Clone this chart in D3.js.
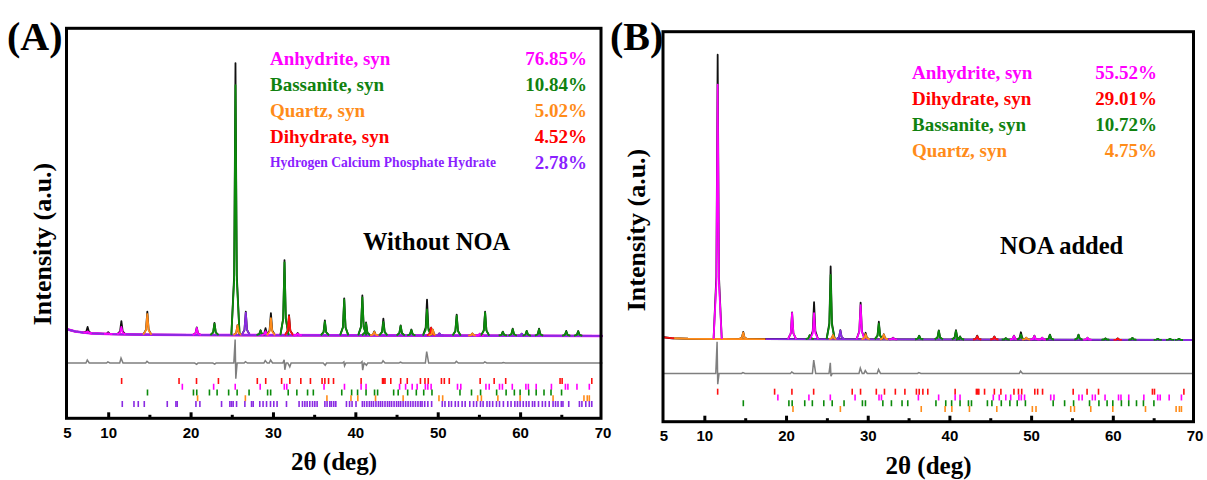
<!DOCTYPE html>
<html>
<head>
<meta charset="utf-8">
<script src="https://cdn.jsdelivr.net/npm/d3@7"></script>
<style>
  body { margin: 0; background: #fff; }
  svg { display: block; }
</style>
</head>
<body>
<div id="chart"></div>
<script>
// ---- data (2θ in degrees, intensities in % of the strongest observed peak) ----

// panel A : without NOA
const peakPosA  = [7.5, 10.0, 11.6, 14.75, 20.75, 22.9, 25.45, 25.7, 26.7, 28.5, 29.1, 29.75, 31.4, 31.95, 33.0, 36.3, 38.65, 40.85, 41.3, 42.3, 43.4, 45.5, 46.8, 48.7, 49.2, 49.4, 50.2, 52.3, 54.2, 55.1, 55.75, 57.9, 59.1, 60.2, 60.8, 62.3, 65.6, 67.05];
const peakObsA  = [2.2, 0.7, 4.8, 8.5, 2.8, 4.5, 100, 3.7, 8.6, 1.8, 2.6, 8.1, 27.6, 7.4, 0.8, 5.5, 13.6, 14.7, 4.8, 1.5, 6.2, 3.7, 2.2, 13.2, 2.9, 2.2, 0.8, 7.7, 0.8, 0.7, 8.8, 1.5, 2.6, 0.8, 1.8, 2.6, 1.8, 1.8];
const peakCalcA = [0.6, 0.3, 2.7, 7.6, 2.6, 4.2, 91.9, 3.7, 8.3, 1.7, 1.5, 6.3, 26.8, 7.0, 0.6, 5.0, 13.2, 14.0, 4.5, 1.3, 5.0, 3.5, 2.0, 9.6, 2.9, 2.2, 0.8, 7.3, 0.8, 0.7, 8.5, 1.4, 2.4, 0.8, 1.7, 2.4, 1.6, 1.6];
const peakColA  = ["magenta", "magenta", "magenta", "orange", "magenta", "green", "green", "orange", "purple", "green", "magenta", "orange", "green", "red", "magenta", "green", "green", "green", "green", "orange", "green", "green", "green", "green", "red", "orange", "purple", "green", "orange", "magenta", "green", "green", "green", "purple", "green", "green", "green", "green"];
const bgPosA = [5, 6, 7, 8, 10, 15, 20, 70];
const bgValA = [2.1, 1.3, 0.9, 0.6, 0.35, 0.1, 0, -0.35];
const bgSegFromA = [5, 5];
const bgSegToA = [70, 70];
const bgSegColA = ["magenta", "purple"];
const diffPosA  = [7.5, 10, 11.6, 14.75, 20.7, 22.9, 25.45, 26.7, 29.1, 29.75, 31.4, 32.0, 36.3, 38.65, 40.85, 41.3, 43.4, 45.5, 48.7, 52.3, 55.75, 58.0];
const diffUpA   = [1.1, 0.4, 1.8, 0.6, 0, 0, 8.6, 0.5, 0.9, 1.1, 1.2, 0, 0, 0.4, 0.5, 0, 0.8, 0.3, 4.2, 0.6, 0.4, 0.2];
const diffDownA = [0, 0, 0, 0, -0.5, -0.4, -5.8, 0, 0, 0, -2.5, -1.4, -0.8, -1.0, -2.6, -0.8, 0, 0, 0, 0, 0, 0];

// panel B : NOA added
const peakPosB  = [11.63, 14.76, 20.74, 22.9, 23.43, 25.46, 25.75, 26.65, 29.13, 29.74, 31.36, 31.97, 33.1, 36.3, 38.7, 40.8, 41.3, 43.4, 45.5, 46.9, 47.9, 48.75, 49.4, 50.4, 51.35, 52.3, 55.8, 56.9, 59.1, 60.6, 62.4, 65.5, 67.0, 68.1];
const peakObsB  = [100, 2.5, 9.4, 1.4, 13.0, 25.6, 1.5, 3.2, 12.9, 2.3, 6.2, 1.8, 0.6, 1.3, 3.2, 3.3, 1.1, 1.4, 1.1, 0.5, 1.4, 2.6, 0.7, 1.4, 0.7, 1.8, 1.8, 0.7, 0.5, 0.5, 0.7, 0.4, 0.4, 0.4];
const peakCalcB = [89.5, 2.3, 9.2, 1.4, 9.2, 22.6, 1.5, 3.1, 12.0, 1.8, 5.5, 1.7, 0.5, 1.2, 3.0, 3.0, 1.0, 1.2, 1.0, 0.5, 1.3, 1.8, 0.7, 1.3, 0.7, 1.7, 1.7, 0.7, 0.5, 0.5, 0.7, 0.4, 0.4, 0.4];
const peakColB  = ["magenta", "orange", "magenta", "green", "magenta", "green", "orange", "purple", "magenta", "orange", "green", "orange", "magenta", "green", "green", "green", "green", "red", "red", "green", "magenta", "green", "orange", "magenta", "magenta", "green", "green", "magenta", "green", "red", "green", "green", "green", "green"];
const bgPosB = [5, 6, 8, 12, 70];
const bgValB = [0.7, 0.4, 0.2, 0.1, -0.25];
const bgSegFromB = [5, 6.3, 17.5];
const bgSegToB = [6.3, 17.5, 70];
const bgSegColB = ["red", "orange", "purple"];
const diffPosB  = [11.6, 14.76, 20.74, 23.43, 25.46, 29.13, 29.74, 31.36, 36.3, 48.75];
const diffUpB   = [11.1, 0.3, 0.5, 4.7, 3.7, 1.9, 1.0, 1.4, 0.3, 0.8];
const diffDownB = [-3.8, 0, 0, 0, -1.0, 0, 0, 0, 0, 0];

// reflection markers of each phase
const dihydrateTicks = [11.63, 18.6, 20.72, 23.38, 28.1, 29.12, 31.05, 32.05, 33.38, 34.55, 35.96, 36.3, 36.75, 37.35, 40.7, 43.3, 43.45, 43.6, 44.3, 45.5, 46.3, 47.9, 48.45, 48.85, 50.45, 50.8, 51.4, 55.15, 56.85, 58.25, 64.85, 65.1, 68.7];
const anhydriteTicks = [19.0, 22.8, 25.42, 28.45, 31.38, 31.68, 36.2, 38.68, 40.7, 41.3, 45.37, 46.1, 46.9, 47.5, 48.5, 48.8, 49.2, 52.4, 52.8, 55.85, 56.25, 57.5, 57.85, 59.05, 60.7, 61.0, 61.95, 63.8, 65.5, 65.8, 66.9, 68.4];
const bassaniteTicks = [14.77, 20.35, 20.75, 22.29, 23.22, 24.62, 25.65, 27.1, 29.35, 29.72, 31.85, 32.9, 34.2, 34.9, 38.35, 39.55, 40.27, 41.3, 42.33, 42.7, 44.65, 45.2, 46.35, 47.4, 48.3, 49.3, 52.7, 54.1, 55.2, 57.15, 58.3, 59.3, 60.0, 61.05, 61.95, 62.9, 63.75, 65.03];
const quartzTicks = [20.85, 26.65, 36.55, 39.47, 40.3, 42.45, 45.8, 50.15, 50.6, 54.85, 55.3, 57.3, 60.0, 64.0, 67.75, 68.15, 68.4];
const hcphTicks = [11.71, 13.13, 13.65, 14.38, 17.17, 18.22, 18.38, 20.65, 21.13, 23.76, 24.77, 24.97, 25.17, 25.58, 26.59, 27.4, 27.6, 28.4, 28.8, 29.22, 29.7, 30.1, 30.5, 31.64, 33.17, 33.58, 33.87, 34.15, 34.47, 34.8, 35.08, 35.36, 36.3, 36.57, 36.9, 37.1, 37.38, 37.63, 38.92, 39.3, 39.6, 40.08, 40.85, 41.1, 41.4, 41.7, 41.95, 42.2, 42.5, 42.8, 43.05, 43.3, 43.6, 43.9, 44.15, 44.4, 44.7, 45.0, 45.25, 45.5, 45.8, 46.1, 46.4, 46.7, 47.0, 47.3, 47.6, 47.9, 48.1, 48.42, 48.8, 49.26, 50.55, 50.88, 51.34, 51.67, 52.13, 52.5, 52.96, 53.33, 53.89, 54.35, 54.72, 55.19, 55.51, 55.98, 56.3, 56.67, 57.13, 57.5, 57.97, 58.5, 58.9, 59.36, 59.68, 60.0, 60.38, 60.75, 61.07, 61.5, 61.77, 62.23, 62.7, 63.07, 63.53, 64.0, 64.3, 64.6, 65.0, 65.2, 65.9, 67.2, 67.5, 67.97, 68.4, 68.7];

// legends
const legendNamesA = ["Anhydrite, syn", "Bassanite, syn", "Quartz, syn", "Dihydrate, syn", "Hydrogen Calcium Phosphate Hydrate"];
const legendPctA = ["76.85%", "10.84%", "5.02%", "4.52%", "2.78%"];
const legendColA = ["magenta", "green", "orange", "red", "purple"];
const legendNamesB = ["Anhydrite, syn", "Dihydrate, syn", "Bassanite, syn", "Quartz, syn"];
const legendPctB = ["55.52%", "29.01%", "10.72%", "4.75%"];
const legendColB = ["magenta", "red", "green", "orange"];

const xTicks = [5, 10, 20, 30, 40, 50, 60, 70];
const xMinorTicks = [15, 25, 35, 45, 55, 65];

// ---- drawing ----
const curveCol = { magenta: "#ff00ff", green: "#0b8a0b", orange: "#ff8c1a", red: "#ff1010", purple: "#8a2be2" };
const textCol  = { magenta: "#ff00ff", green: "#10820f", orange: "#ff8c1a", red: "#ff0000", purple: "#8b1fff" };
const serif = "'Times New Roman','Liberation Serif',serif";
const sans = "Arial,'Liberation Sans',sans-serif";
const peakShape = [[-0.5, 0], [-0.16, 0.22], [0, 1], [0.16, 0.22], [0.5, 0]];

const svg = d3.select("#chart").append("svg")
    .attr("width", 1207)
    .attr("height", 480);

function drawPanel(p) {
    const g = svg.append("g");
    const x = d3.scaleLinear().domain([5, 70]).range([p.x0, p.x1]);
    const y = d3.scaleLinear().domain([0, 100]).range([p.baseY, p.topY]);
    const bg = d3.scaleLinear().domain(p.bgPos).range(p.bgVal).clamp(true);
    const line = d3.line().x(d => x(d[0])).y(d => y(d[1]));
    const peakPts = (pos, h) => peakShape.map(s => [pos + s[0], bg(pos + s[0]) + s[1] * h]);

    // observed pattern (black)
    g.append("path")
        .attr("d", line(p.bgPos.map((v, i) => [v, p.bgVal[i]])))
        .attr("fill", "none").attr("stroke", "#000").attr("stroke-width", 2);
    p.pos.forEach((pos, i) => {
        g.append("path")
            .attr("d", line(peakPts(pos, p.obs[i])))
            .attr("fill", "none").attr("stroke", "#111").attr("stroke-width", 1.8)
            .attr("stroke-linejoin", "round");
    });

    // calculated background, coloured
    p.segFrom.forEach((from, i) => {
        const to = p.segTo[i];
        const pts = [from].concat(p.bgPos.filter(v => v > from && v < to), [to]).map(v => [v, bg(v)]);
        g.append("path")
            .attr("d", line(pts))
            .attr("fill", "none")
            .attr("stroke", curveCol[p.segCol[i]])
            .attr("stroke-width", i === 0 && p.segFrom.length === 2 ? 2.6 : 1.8);
    });

    // calculated peaks, coloured by phase
    p.pos.forEach((pos, i) => {
        g.append("path")
            .attr("d", line(peakPts(pos, p.calc[i])))
            .attr("fill", "none").attr("stroke", curveCol[p.col[i]]).attr("stroke-width", 1.8)
            .attr("stroke-linejoin", "round");
    });

    // difference curve
    const dPts = [[5, 0]];
    p.diffPos.forEach((pos, i) => {
        dPts.push([pos - 0.2, 0]);
        if (p.diffUp[i] !== 0) dPts.push([pos - 0.04, p.diffUp[i]]);
        if (p.diffDown[i] !== 0) dPts.push([pos + 0.04, p.diffDown[i]]);
        dPts.push([pos + 0.2, 0]);
    });
    dPts.push([70, 0]);
    g.append("path")
        .attr("d", line(dPts.map(d => [d[0], d[1] + p.diffOffset])))
        .attr("fill", "none").attr("stroke", "#7f7f7f").attr("stroke-width", 1.5);

    // reflection markers
    const row = d3.scalePoint().domain(d3.range(p.tickRows.length)).range(p.tickRange);
    p.tickRows.forEach((r, k) => {
        g.selectAll(null)
            .data(r.pos)
            .enter().append("line")
            .attr("x1", d => x(d)).attr("x2", d => x(d))
            .attr("y1", row(k) - 3).attr("y2", row(k) + 3)
            .attr("stroke", curveCol[r.col]).attr("stroke-width", 1.6);
    });

    // frame
    g.append("rect")
        .attr("x", p.x0 - 0.5).attr("y", p.frameTop)
        .attr("width", p.frameRight - p.x0 + 0.5).attr("height", p.axisY - p.frameTop)
        .attr("fill", "none").attr("stroke", "#000").attr("stroke-width", 3);

    // x axis
    const ax = g.append("g").attr("transform", `translate(0,${p.axisY})`)
        .call(d3.axisBottom(x).tickValues(xTicks).tickSize(-6).tickPadding(9).tickFormat(d3.format("d")));
    ax.select(".domain").remove();
    ax.selectAll(".tick line").attr("stroke-width", 3).filter(d => d === 5 || d === 70).remove();
    ax.selectAll(".tick text").attr("font-family", sans).attr("font-weight", "bold")
        .attr("font-size", 15).attr("fill", "#000");
    const mx = g.append("g").attr("transform", `translate(0,${p.axisY})`)
        .call(d3.axisBottom(x).tickValues(xMinorTicks).tickSize(-3.5).tickFormat(""));
    mx.select(".domain").remove();
    mx.selectAll(".tick line").attr("stroke-width", 3);

    // titles
    g.append("text")
        .attr("x", (p.x0 + p.frameRight) / 2).attr("y", p.axisY + 52)
        .attr("text-anchor", "middle")
        .attr("font-family", serif).attr("font-weight", "bold").attr("font-size", 25)
        .text("2θ (deg)");
    g.append("text")
        .attr("transform", `translate(${p.yTitleX},${p.yTitleY}) rotate(-90)`)
        .attr("text-anchor", "middle").attr("dominant-baseline", "central")
        .attr("font-family", serif).attr("font-weight", "bold").attr("font-size", 26)
        .text("Intensity (a.u.)");
    g.append("text")
        .attr("x", p.tagX).attr("y", 50)
        .attr("font-family", serif).attr("font-weight", "bold").attr("font-size", 40)
        .text(p.tag);
    g.append("text")
        .attr("x", p.noteX).attr("y", p.noteY)
        .attr("font-family", serif).attr("font-weight", "bold").attr("font-size", 24.5)
        .text(p.note);

    // legend
    p.legNames.forEach((name, i) => {
        const small = name.length > 20;
        g.append("text")
            .attr("x", p.legX).attr("y", p.legY + i * 26)
            .attr("dominant-baseline", "central")
            .attr("font-family", serif).attr("font-weight", "bold")
            .attr("font-size", small ? 13.6 : 19)
            .attr("fill", textCol[p.legCol[i]])
            .text(name);
        g.append("text")
            .attr("x", p.pctX).attr("y", p.legY + i * 26)
            .attr("text-anchor", "end").attr("dominant-baseline", "central")
            .attr("font-family", serif).attr("font-weight", "bold").attr("font-size", 19)
            .attr("fill", textCol[p.legCol[i]])
            .text(p.legPct[i]);
    });
}

drawPanel({
    x0: 67, x1: 602.5, frameRight: 601, frameTop: 28.3, axisY: 418.3,
    baseY: 335, topY: 63,
    pos: peakPosA, obs: peakObsA, calc: peakCalcA, col: peakColA,
    bgPos: bgPosA, bgVal: bgValA, segFrom: bgSegFromA, segTo: bgSegToA, segCol: bgSegColA,
    diffPos: diffPosA, diffUp: diffUpA, diffDown: diffDownA, diffOffset: -10.3,
    tickRows: [
        { col: "red", pos: dihydrateTicks },
        { col: "magenta", pos: anhydriteTicks },
        { col: "green", pos: bassaniteTicks },
        { col: "orange", pos: quartzTicks },
        { col: "purple", pos: hcphTicks }
    ],
    tickRange: [381, 404],
    yTitleX: 42, yTitleY: 244,
    tag: "(A)", tagX: 7,
    note: "Without NOA", noteX: 363, noteY: 250,
    legNames: legendNamesA, legPct: legendPctA, legCol: legendColA,
    legX: 270, legY: 58, pctX: 587
});

drawPanel({
    x0: 663.5, x1: 1194.5, frameRight: 1193.5, frameTop: 31.7, axisY: 421.7,
    baseY: 339.3, topY: 55,
    pos: peakPosB, obs: peakObsB, calc: peakCalcB, col: peakColB,
    bgPos: bgPosB, bgVal: bgValB, segFrom: bgSegFromB, segTo: bgSegToB, segCol: bgSegColB,
    diffPos: diffPosB, diffUp: diffUpB, diffDown: diffDownB, diffOffset: -12.0,
    tickRows: [
        { col: "red", pos: dihydrateTicks },
        { col: "magenta", pos: anhydriteTicks },
        { col: "green", pos: bassaniteTicks },
        { col: "orange", pos: quartzTicks }
    ],
    tickRange: [391.7, 409],
    yTitleX: 636, yTitleY: 230,
    tag: "(B)", tagX: 610,
    note: "NOA added", noteX: 1000, noteY: 254,
    legNames: legendNamesB, legPct: legendPctB, legCol: legendColB,
    legX: 912, legY: 72, pctX: 1157
});
</script>
</body>
</html>
